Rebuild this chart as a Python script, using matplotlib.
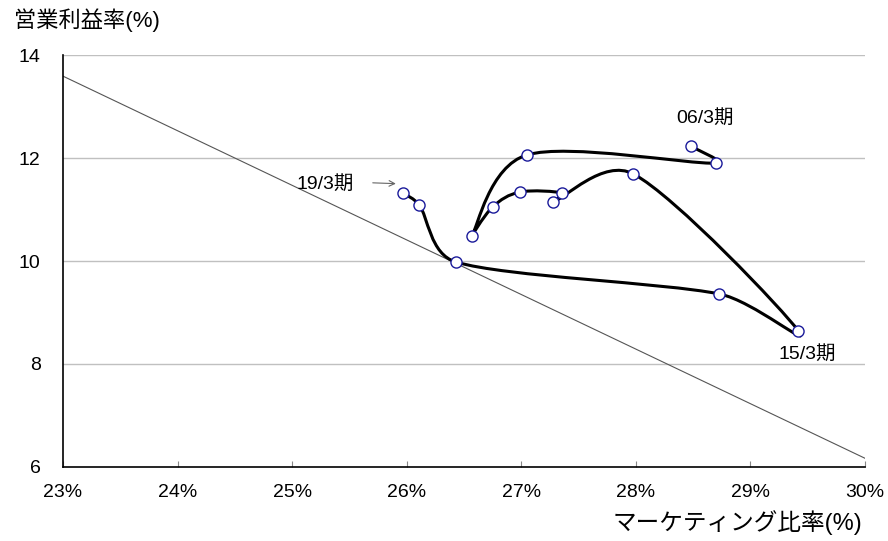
import numpy as np
import matplotlib
matplotlib.use("Agg")
import matplotlib.pyplot as plt
from matplotlib.path import Path
from matplotlib.patches import PathPatch

plt.rcParams['font.family'] = ['Liberation Sans', 'Noto Sans CJK JP', 'DejaVu Sans']

# Marketing ratio (%) and operating margin (%), fiscal 06/3 .. 19/3
periods = ["06/3", "07/3", "08/3", "09/3", "10/3", "11/3", "12/3",
           "13/3", "14/3", "15/3", "16/3", "17/3", "18/3", "19/3"]
marketing = [28.48, 28.70, 27.05, 26.57, 26.75, 26.99, 27.36,
             27.28, 27.98, 29.42, 28.73, 26.43, 26.11, 25.97]
margin = [12.23, 11.90, 12.06, 10.49, 11.05, 11.34, 11.32,
          11.15, 11.69, 8.64, 9.36, 9.98, 11.09, 11.32]

# Reference diagonal
ref_x = [23.0, 30.0]
ref_y = [13.59, 6.17]

x_ticks = [23, 24, 25, 26, 27, 28, 29, 30]
y_ticks = [6, 8, 10, 12, 14]


def smooth_path(xs, ys, ax, clamp=0.4):
    """Cardinal-spline style Bezier through the points (display space),
    with control arms limited relative to each segment length."""
    pts = ax.transData.transform(np.column_stack([xs, ys]))
    n = len(pts)
    verts = [pts[0]]
    codes = [Path.MOVETO]
    for i in range(n - 1):
        p0 = pts[i - 1] if i > 0 else pts[i]
        p1 = pts[i]
        p2 = pts[i + 1]
        p3 = pts[i + 2] if i + 2 < n else pts[i + 1]
        seg = np.linalg.norm(p2 - p1)
        t1 = (p2 - p0) / 6.0
        t2 = (p3 - p1) / 6.0
        for t in (t1, t2):
            m = np.linalg.norm(t)
            if m > clamp * seg and m > 0:
                t *= clamp * seg / m
        verts += [p1 + t1, p2 - t2, p2]
        codes += [Path.CURVE4] * 3
    return Path(verts, codes)


fig = plt.figure(figsize=(8.88, 5.41), dpi=100)
ax = fig.add_axes([0.0709, 0.1368, 0.9031, 0.7615])
ax.set_xlim(23, 30)
ax.set_ylim(6, 14)

ax.set_xticks(x_ticks)
ax.set_xticklabels([f"{t}%" for t in x_ticks])
ax.set_yticks(y_ticks)
ax.set_yticklabels([str(t) for t in y_ticks])
ax.tick_params(axis='x', labelsize=14, direction='in', length=4,
               color='#888888', pad=12)
ax.tick_params(axis='y', labelsize=14, length=0, pad=16)

for y in y_ticks[1:]:
    ax.axhline(y, color='#c0c0c0', lw=1, zorder=0)
for s in ['top', 'right']:
    ax.spines[s].set_visible(False)
ax.spines['left'].set_color('black')
ax.spines['bottom'].set_color('black')
ax.spines['left'].set_linewidth(1.2)
ax.spines['bottom'].set_linewidth(1.2)

ax.plot(ref_x, ref_y, color='#555555', lw=0.8, zorder=1)

fig.canvas.draw()
path = smooth_path(marketing, margin, ax)
patch = PathPatch(path, facecolor='none', edgecolor='black', lw=2.2,
                  transform=None, zorder=2)
ax.add_patch(patch)
ax.plot(marketing, margin, linestyle='none', marker='o', markersize=8,
        markerfacecolor='white', markeredgecolor='#1a1a9a',
        markeredgewidth=1.0, zorder=3)

ax.text(28.60, 12.78, "06/3期", fontsize=14, ha='center', va='center')
ax.text(29.50, 8.19, "15/3期", fontsize=14, ha='center', va='center')
ax.text(25.29, 11.5, "19/3期", fontsize=14, ha='center', va='center')
ax.annotate("", xy=(25.93, 11.50), xytext=(25.68, 11.52),
            arrowprops=dict(arrowstyle='->', color='#666666', lw=0.8))

fig.text(14 / 888, 1 - 20 / 541, "営業利益率(%)", fontsize=16,
         ha='left', va='center')
fig.text(862 / 888, 1 - 523 / 541, "マーケティング比率(%)", fontsize=17,
         ha='right', va='center')

fig.savefig("out.png", dpi=100)
